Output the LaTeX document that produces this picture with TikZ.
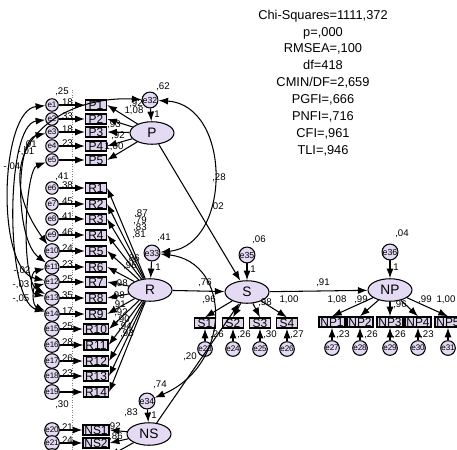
\documentclass[tikz,border=0pt]{standalone}
\usepackage{fontspec}
\setmainfont{Liberation Sans}
\usetikzlibrary{arrows.meta,shapes.geometric}
\definecolor{lilac}{RGB}{228,218,244}
\definecolor{lilacbox}{RGB}{224,213,238}
\tikzset{
  ind/.style={draw,line width=0.8pt,fill=lilacbox,minimum width=0.42cm,minimum height=0.2cm,inner xsep=0.8pt,inner ysep=0pt,font=\fontsize{6.8}{6.8}\selectfont},
  lat/.style={ellipse,draw,line width=0.6pt,fill=lilac,minimum width=0.88cm,minimum height=0.45cm,inner sep=0pt,font=\fontsize{7.8}{7.8}\selectfont},
  err/.style={circle,draw,line width=0.6pt,fill=lilac,minimum size=0.25cm,inner sep=0pt,font=\fontsize{4.6}{4.6}\selectfont},
  dist/.style={err,minimum size=0.3cm,font=\fontsize{5}{5}\selectfont},
  reg/.style={-{Latex[length=5.5pt,width=4pt]},line width=0.6pt},
  cov/.style={{Latex[length=5.5pt,width=4pt]}-{Latex[length=5.5pt,width=4pt]},line width=0.6pt},
  est/.style={font=\fontsize{5.5}{5.5}\selectfont,inner sep=0pt},
}
\begin{document}
\begin{tikzpicture}[x=0.02cm,y=-0.02cm]
\useasboundingbox (0,0) rectangle (457,450);
\clip (0,0) rectangle (457,450);
% fit indices
\node[align=center,font=\fontsize{7.3}{9.64}\selectfont] (fit) at (323,83) {Chi-Squares=1111,372\\p=,000\\RMSEA=,100\\df=418\\CMIN/DF=2,659\\PGFI=,666\\PNFI=,716\\CFI=,961\\TLI=,946};
\draw[densely dotted,gray] (72,90) -- (72,450);
% latent variables
\node[lat] (P) at (152,133) {P};
\node[dist] (e32) at (150,100) {e32};
\node[lat] (R) at (150,290) {R};
\node[dist] (e33) at (152,253) {e33};
\node[lat] (NS) at (149,434) {NS};
\node[dist] (e34) at (147,401) {e34};
\node[lat] (S) at (247,292) {S};
\node[dist] (e35) at (247,255) {e35};
\node[lat] (NP) at (390,290) {NP};
\node[dist] (e36) at (390,252) {e36};
\draw[reg] (e32) -- (P); \draw[reg] (e33) -- (R); \draw[reg] (e34) -- (NS);
\draw[reg] (e35) -- (S); \draw[reg] (e36) -- (NP);
% P items
\node[ind] (P1) at (96,105) {P1}; \node[err] (e1) at (52,105) {e1};
\node[ind] (P2) at (96,119) {P2}; \node[err] (e2) at (52,119) {e2};
\node[ind] (P3) at (96,132) {P3}; \node[err] (e3) at (52,132) {e3};
\node[ind] (P4) at (96,146) {P4}; \node[err] (e4) at (52,146) {e4};
\node[ind] (P5) at (96,160) {P5}; \node[err] (e5) at (52,160) {e5};
\draw[reg] (e1) -- (P1); \draw[reg] (P) -- (P1.east);
\draw[reg] (e2) -- (P2); \draw[reg] (P) -- (P2.east);
\draw[reg] (e3) -- (P3); \draw[reg] (P) -- (P3.east);
\draw[reg] (e4) -- (P4); \draw[reg] (P) -- (P4.east);
\draw[reg] (e5) -- (P5); \draw[reg] (P) -- (P5.east);
% R items
\node[ind] (R1) at (96,188) {R1}; \node[err] (e6) at (52,188) {e6};
\node[ind] (R2) at (96,204) {R2}; \node[err] (e7) at (52,204) {e7};
\node[ind] (R3) at (96,219) {R3}; \node[err] (e8) at (52,219) {e8};
\node[ind] (R4) at (96,235) {R4}; \node[err] (e9) at (52,235) {e9};
\node[ind] (R5) at (96,251) {R5}; \node[err] (e10) at (52,251) {e10};
\node[ind] (R6) at (96,267) {R6}; \node[err] (e11) at (52,267) {e11};
\node[ind] (R7) at (96,282) {R7}; \node[err] (e12) at (52,282) {e12};
\node[ind] (R8) at (96,298) {R8}; \node[err] (e13) at (52,298) {e13};
\node[ind] (R9) at (96,314) {R9}; \node[err] (e14) at (52,314) {e14};
\node[ind] (R10) at (96,329) {R10}; \node[err] (e15) at (52,329) {e15};
\node[ind] (R11) at (96,345) {R11}; \node[err] (e16) at (52,345) {e16};
\node[ind] (R12) at (96,361) {R12}; \node[err] (e17) at (52,361) {e17};
\node[ind] (R13) at (96,376) {R13}; \node[err] (e18) at (52,376) {e18};
\node[ind] (R14) at (96,392) {R14}; \node[err] (e19) at (52,392) {e19};
\draw[reg] (e6) -- (R1); \draw[reg] (R) -- (R1.east);
\draw[reg] (e7) -- (R2); \draw[reg] (R) -- (R2.east);
\draw[reg] (e8) -- (R3); \draw[reg] (R) -- (R3.east);
\draw[reg] (e9) -- (R4); \draw[reg] (R) -- (R4.east);
\draw[reg] (e10) -- (R5); \draw[reg] (R) -- (R5.east);
\draw[reg] (e11) -- (R6); \draw[reg] (R) -- (R6.east);
\draw[reg] (e12) -- (R7); \draw[reg] (R) -- (R7.east);
\draw[reg] (e13) -- (R8); \draw[reg] (R) -- (R8.east);
\draw[reg] (e14) -- (R9); \draw[reg] (R) -- (R9.east);
\draw[reg] (e15) -- (R10); \draw[reg] (R) -- (R10.east);
\draw[reg] (e16) -- (R11); \draw[reg] (R) -- (R11.east);
\draw[reg] (e17) -- (R12); \draw[reg] (R) -- (R12.east);
\draw[reg] (e18) -- (R13); \draw[reg] (R) -- (R13.east);
\draw[reg] (e19) -- (R14); \draw[reg] (R) -- (R14.east);
% NS items
\node[ind] (NS1) at (96,430) {NS1}; \node[err] (e20) at (52,430) {e20};
\node[ind] (NS2) at (96,443) {NS2}; \node[err] (e21) at (52,443) {e21};
\node[ind] (NS3) at (96,456) {NS3}; \node[err] (e22) at (52,456) {e22};
\draw[reg] (e20) -- (NS1); \draw[reg] (NS) -- (NS1.east);
\draw[reg] (e21) -- (NS2); \draw[reg] (NS) -- (NS2.east);
\draw[reg] (e22) -- (NS3); \draw[reg] (NS) -- (NS3.east);
% S items
\node[ind] (S1) at (205,323) {S1}; \node[err] (e23) at (205,349) {e23};
\node[ind] (S2) at (233,323) {S2}; \node[err] (e24) at (233,349) {e24};
\node[ind] (S3) at (260,323) {S3}; \node[err] (e25) at (260,349) {e25};
\node[ind] (S4) at (287,323) {S4}; \node[err] (e26) at (287,349) {e26};
\draw[reg] (e23) -- (S1); \draw[reg] (S) -- (S1.north);
\draw[reg] (e24) -- (S2); \draw[reg] (S) -- (S2.north);
\draw[reg] (e25) -- (S3); \draw[reg] (S) -- (S3.north);
\draw[reg] (e26) -- (S4); \draw[reg] (S) -- (S4.north);
% NP items
\node[ind] (NP1) at (332,322) {NP1}; \node[err] (e27) at (332,348) {e27};
\node[ind] (NP2) at (360,322) {NP2}; \node[err] (e28) at (360,348) {e28};
\node[ind] (NP3) at (390,322) {NP3}; \node[err] (e29) at (390,348) {e29};
\node[ind] (NP4) at (418,322) {NP4}; \node[err] (e30) at (418,348) {e30};
\node[ind] (NP5) at (448,322) {NP5}; \node[err] (e31) at (448,348) {e31};
\draw[reg] (e27) -- (NP1); \draw[reg] (NP) -- (NP1.north);
\draw[reg] (e28) -- (NP2); \draw[reg] (NP) -- (NP2.north);
\draw[reg] (e29) -- (NP3); \draw[reg] (NP) -- (NP3.north);
\draw[reg] (e30) -- (NP4); \draw[reg] (NP) -- (NP4.north);
\draw[reg] (e31) -- (NP5); \draw[reg] (NP) -- (NP5.north);
% structural paths
\draw[reg] (P) -- (S);
\draw[reg] (R) -- (S);
\draw[reg] (NS) -- (S);
\draw[reg] (S) -- (NP);
% covariances
\draw[cov] (e32) .. controls (232,105) and (232,245) .. (e33);
\draw[cov] (e33) .. controls (232,262) and (232,365) .. (e34);
\draw[cov] (e32) .. controls (60,95) and (-20,150) .. (e10);
\draw[cov] (e3) .. controls (15,140) and (15,240) .. (e11);
\draw[cov] (e1) .. controls (0,110) and (-5,270) .. (e12);
\draw[cov] (e5) .. controls (25,170) and (20,280) .. (e13);
\draw[cov] (e2) .. controls (5,125) and (5,300) .. (e14);
\draw[cov] (e11) .. controls (30,272) and (30,293) .. (e13);
\draw[cov] (e12) .. controls (32,287) and (32,305) .. (e14);
% estimates
\node[est] (c1) at (30,145) {,01};
\node[est] (c2) at (26,152) {-,01};
\node[est] (c3) at (12,167) {-,04};
\node[est] (c4) at (22,271) {-,02};
\node[est] (c5) at (21,285) {-,03};
\node[est] (c6) at (21,299) {-,05};
\node[est] (c7) at (219,178) {,28};
\node[est] (ps) at (217,207) {,02};
\node[est] (rs) at (205,283) {,76};
\node[est] (nss) at (190,357) {,20};
\node[est] (snp) at (323,283) {,91};
\node[est] (r2p) at (163,87) {,62};
\node[est] (r2r) at (164,238) {,41};
\node[est] (r2ns) at (160,385) {,74};
\node[est] (r2s) at (259,240) {,06};
\node[est] (r2np) at (402,234) {,04};
\node[est] (w32) at (157,114) {1};
\node[est] (w33) at (158,267) {1};
\node[est] (w34) at (154,415) {1};
\node[est] (w35) at (253,269) {1};
\node[est] (w36) at (396,267) {1};
\node[est] (tp) at (62,92) {,25};
\node[est] (tr) at (62,177) {,41};
\node[est] (tns) at (62,405) {,30};
% P loadings and item values
\node[est] (lp1) at (136,104) {,92};
\node[est] (lp2) at (134,111) {1,08};
\node[est] (lp3) at (114,125) {,93};
\node[est] (lp4) at (118,136) {,92};
\node[est] (lp5) at (114,147) {1,00};
\node[est,anchor=west] (vp1) at (59,103) {,18};
\node[est,anchor=west] (vp2) at (59,117) {,33};
\node[est,anchor=west] (vp3) at (59,130) {,18};
\node[est,anchor=west] (vp4) at (59,144) {,23};
% R loadings and item values
\node[est] (lr1) at (141,214) {,87};
\node[est] (lr2) at (140,221) {,79};
\node[est] (lr3) at (140,228) {,83};
\node[est] (lr4) at (139,235) {,81};
\node[est] (lr5) at (133,259) {,86};
\node[est] (lr6) at (130,266) {,96};
\node[est] (lr7) at (121,284) {,98};
\node[est] (lr8) at (118,296) {,98};
\node[est] (lr9) at (119,305) {,91};
\node[est] (lr10) at (121,313) {,92};
\node[est] (lr11) at (123,320) {,90};
\node[est] (lr12) at (125,327) {,94};
\node[est] (lr13) at (127,334) {,93};
\node[est,anchor=west] (vr1) at (59,186) {,38};
\node[est,anchor=west] (vr2) at (59,202) {,45};
\node[est,anchor=west] (vr3) at (59,217) {,41};
\node[est,anchor=west] (vr4) at (59,233) {,46};
\node[est,anchor=west] (vr5) at (59,249) {,24};
\node[est,anchor=west] (vr6) at (59,265) {,23};
\node[est,anchor=west] (vr7) at (59,280) {,25};
\node[est,anchor=west] (vr8) at (59,296) {,35};
\node[est,anchor=west] (vr9) at (59,312) {,17};
\node[est,anchor=west] (vr10) at (59,327) {,25};
\node[est,anchor=west] (vr11) at (59,343) {,28};
\node[est,anchor=west] (vr12) at (59,359) {,26};
\node[est,anchor=west] (vr13) at (59,374) {,23};
% NS loadings and item values
\node[est] (lns1) at (131,413) {,83};
\node[est] (lns2) at (114,427) {,92};
\node[est] (lns3) at (116,437) {,86};
\node[est,anchor=west] (vns1) at (59,428) {,21};
\node[est,anchor=west] (vns2) at (59,441) {,24};
% S loadings and item values
\node[est] (ls1) at (209,300) {,96};
\node[est] (ls3) at (265,303) {,98};
\node[est] (ls4) at (289,300) {1,00};
\node[est] (vs1) at (217,335) {,26};
\node[est] (vs2) at (244,335) {,26};
\node[est] (vs3) at (270,335) {,30};
\node[est] (vs4) at (297,335) {,27};
% NP loadings and item values
\node[est] (lnp1) at (337,300) {1,08};
\node[est] (lnp2) at (361,300) {,99};
\node[est] (lnp3) at (400,305) {,96};
\node[est] (lnp4) at (425,300) {,99};
\node[est] (lnp5) at (446,300) {1,00};
\node[est] (vnp1) at (343,335) {,23};
\node[est] (vnp2) at (371,335) {,26};
\node[est] (vnp3) at (399,335) {,26};
\node[est] (vnp4) at (427,335) {,23};
\end{tikzpicture}
\end{document}
